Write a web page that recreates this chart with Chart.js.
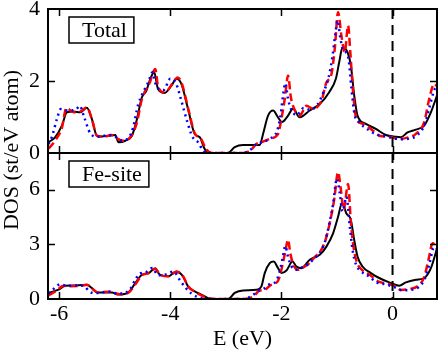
<!DOCTYPE html>
<html>
<head>
<meta charset="utf-8">
<script src="https://cdn.jsdelivr.net/npm/chart.js@4.4.1/dist/chart.umd.min.js"></script>
<style>
  html, body { margin: 0; padding: 0; background: #fff; }
  #wrap { position: relative; width: 441px; height: 352px; }
  #wrap canvas { position: absolute; left: 0; top: 0; }
</style>
</head>
<body>
<div id="wrap">
  <canvas id="topChart" width="441" height="352"></canvas>
  <canvas id="botChart" width="441" height="352"></canvas>
</div>
<script>
// ticks / axes
var energyTicks = [-6, -4, -2, 0];
var totalTicks = [0, 2, 4];
var feTicks = [0, 3, 6];
var fermiLevel = 0;

// Total DOS, black solid
var totBlackE = [-6.19,-6.07,-5.95,-5.86,-5.74,-5.62,-5.50,-5.41,-5.32,-5.23,-5.11,-4.99,-4.93,-4.81,-4.69,-4.60,-4.51,-4.43,-4.37,-4.29,-4.22,-4.10,-3.98,-3.89,-3.80,-3.68,-3.56,-3.47,-3.38,-3.29,-2.96,-2.84,-2.69,-2.39,-2.33,-2.24,-2.15,-2.06,-1.99,-1.88,-1.79,-1.67,-1.49,-1.31,-1.14,-1.02,-0.96,-0.90,-0.81,-0.75,-0.69,-0.63,-0.48,-0.30,-0.12,0.06,0.15,0.27,0.42,0.57,0.69,0.81];
var totBlackD = [0.30,0.44,0.76,1.13,1.15,1.13,1.26,0.94,0.48,0.46,0.48,0.50,0.30,0.34,0.48,0.94,1.55,1.73,2.01,2.24,1.78,1.67,1.87,2.06,1.92,1.22,0.53,0.44,0.11,0.0,0.0,0.16,0.22,0.22,0.53,1.04,1.18,0.99,0.86,1.04,1.23,0.99,1.18,1.36,1.69,2.06,2.52,2.94,2.80,2.43,1.60,1.04,0.81,0.67,0.50,0.45,0.44,0.57,0.65,0.76,1.13,1.64];

// Total DOS, red dashed
var totRedE = [-6.19,-6.07,-5.95,-5.87,-5.74,-5.62,-5.50,-5.41,-5.32,-5.20,-5.05,-4.95,-4.85,-4.69,-4.60,-4.51,-4.37,-4.27,-4.22,-4.10,-3.95,-3.87,-3.80,-3.68,-3.56,-3.45,-3.35,-3.25,-2.70,-2.55,-2.45,-2.35,-2.20,-2.06,-2.01,-1.94,-1.88,-1.83,-1.77,-1.67,-1.55,-1.43,-1.28,-1.19,-1.10,-1.04,-0.98,-0.92,-0.86,-0.80,-0.76,-0.71,-0.65,-0.53,-0.35,-0.24,-0.06,0.12,0.30,0.42,0.57,0.66,0.75,0.81];
var totRedD = [0.12,0.35,0.70,1.25,1.13,1.15,1.27,0.94,0.48,0.45,0.50,0.40,0.34,0.50,0.85,1.50,1.95,2.33,1.85,1.68,1.95,2.10,1.97,1.25,0.55,0.40,0.10,0.0,0.0,0.08,0.25,0.30,0.40,0.53,0.86,1.50,2.15,1.55,1.23,1.04,1.31,1.23,1.45,1.96,2.19,2.89,3.91,3.26,2.80,3.54,2.80,1.69,0.94,0.81,0.62,0.48,0.45,0.39,0.44,0.53,0.86,1.50,1.92,1.83];

// Total DOS, blue dotted
var totBlueE = [-6.19,-6.13,-6.04,-5.97,-5.85,-5.70,-5.63,-5.55,-5.44,-5.30,-5.10,-4.95,-4.87,-4.75,-4.67,-4.58,-4.50,-4.40,-4.32,-4.25,-4.12,-4.00,-3.90,-3.80,-3.70,-3.60,-3.50,-3.40,-3.30,-2.70,-2.55,-2.45,-2.35,-2.20,-2.08,-2.02,-1.97,-1.93,-1.88,-1.82,-1.72,-1.60,-1.48,-1.35,-1.24,-1.15,-1.08,-1.03,-0.99,-0.94,-0.89,-0.84,-0.79,-0.74,-0.68,-0.60,-0.45,-0.30,-0.15,0.0,0.15,0.30,0.45,0.58,0.67,0.75,0.81];
var totBlueD = [0.25,0.45,0.94,1.22,1.18,1.20,1.31,1.00,0.55,0.45,0.50,0.42,0.35,0.42,0.70,1.33,1.65,1.95,2.24,1.85,1.75,2.06,1.95,1.45,0.90,0.45,0.30,0.05,0.0,0.0,0.10,0.25,0.30,0.40,0.60,1.00,1.60,1.94,1.50,1.20,1.05,1.25,1.20,1.35,1.70,2.10,2.70,3.30,3.68,3.20,2.85,2.80,2.60,1.80,1.05,0.85,0.66,0.52,0.47,0.42,0.38,0.40,0.50,0.80,1.30,1.75,1.85];

// Fe-site DOS, black solid
var feBlackE = [-6.19,-6.01,-5.89,-5.77,-5.50,-5.41,-5.32,-5.05,-4.93,-4.75,-4.63,-4.51,-4.39,-4.27,-4.19,-4.04,-3.89,-3.77,-3.68,-3.56,-3.44,-3.32,-3.15,-2.96,-2.84,-2.69,-2.45,-2.36,-2.30,-2.21,-2.14,-2.06,-2.00,-1.91,-1.80,-1.73,-1.64,-1.49,-1.31,-1.19,-1.07,-0.98,-0.91,-0.83,-0.75,-0.69,-0.63,-0.54,-0.39,-0.24,-0.06,0.12,0.24,0.42,0.57,0.69,0.81];
var feBlackD = [0.33,0.51,0.72,0.74,0.78,0.60,0.36,0.36,0.24,0.36,0.87,1.33,1.42,1.69,1.33,1.24,1.51,1.24,0.69,0.42,0.24,0.05,0.0,0.0,0.33,0.47,0.51,0.69,1.42,1.96,2.05,1.69,1.42,1.56,2.05,1.78,1.69,2.15,2.42,2.87,3.60,4.51,5.24,4.69,4.33,3.24,2.33,1.78,1.42,1.15,0.91,0.73,0.91,1.05,1.15,1.69,2.87];

// Fe-site DOS, red dashed
var feRedE = [-6.19,-6.05,-5.92,-5.80,-5.60,-5.50,-5.40,-5.30,-5.10,-5.00,-4.90,-4.75,-4.63,-4.51,-4.39,-4.27,-4.19,-4.04,-3.89,-3.77,-3.68,-3.56,-3.44,-3.32,-3.20,-2.69,-2.50,-2.40,-2.30,-2.20,-2.12,-2.06,-2.00,-1.93,-1.88,-1.84,-1.78,-1.70,-1.60,-1.50,-1.40,-1.30,-1.20,-1.12,-1.05,-0.98,-0.93,-0.88,-0.80,-0.75,-0.70,-0.64,-0.55,-0.40,-0.25,-0.10,0.05,0.15,0.30,0.45,0.57,0.65,0.72,0.81];
var feRedD = [0.20,0.45,0.72,0.70,0.72,0.78,0.55,0.36,0.40,0.32,0.26,0.36,0.80,1.30,1.42,1.65,1.35,1.24,1.50,1.25,0.70,0.40,0.20,0.05,0.0,0.0,0.15,0.45,0.50,0.75,0.85,1.00,1.60,2.60,3.25,2.50,1.85,1.60,1.75,1.95,2.30,2.60,3.30,4.30,5.45,6.95,6.00,4.90,6.30,4.20,2.80,2.00,1.60,1.30,0.95,0.85,0.70,0.50,0.55,0.70,1.20,2.20,3.05,2.70];

// Fe-site DOS, blue dotted
var feBlueE = [-6.19,-6.10,-5.98,-5.85,-5.65,-5.55,-5.45,-5.35,-5.10,-4.95,-4.85,-4.72,-4.62,-4.55,-4.45,-4.32,-4.22,-4.08,-3.94,-3.82,-3.72,-3.62,-3.50,-3.40,-3.30,-2.70,-2.52,-2.42,-2.32,-2.22,-2.12,-2.05,-1.98,-1.93,-1.88,-1.82,-1.74,-1.62,-1.52,-1.42,-1.32,-1.22,-1.14,-1.07,-1.00,-0.95,-0.90,-0.83,-0.77,-0.72,-0.66,-0.58,-0.43,-0.28,-0.12,0.03,0.18,0.32,0.47,0.58,0.67,0.74,0.81];
var feBlueD = [0.30,0.55,0.80,0.72,0.74,0.70,0.40,0.32,0.40,0.30,0.30,0.55,1.10,1.40,1.45,1.70,1.30,1.35,1.50,1.00,0.60,0.30,0.10,0.02,0.0,0.0,0.20,0.45,0.55,0.80,0.90,1.30,2.20,2.90,2.30,1.80,1.60,1.75,1.90,2.20,2.50,3.10,4.10,5.20,6.60,5.80,4.80,5.60,4.00,2.70,1.90,1.55,1.25,0.90,0.80,0.65,0.48,0.50,0.65,1.10,2.00,2.80,2.60];

var serif = '"Liberation Serif", "DejaVu Serif", serif';

function pairs(e, d) {
    return e.map(function (x, i) { return { x: x, y: d[i] }; });
}

// 3 lignes: bleu en haut, noir en dessous
function makeDatasets(blackE, blackD, redE, redD, blueE, blueD) {
    return [
        { data: pairs(blueE, blueD), borderColor: '#0000ff', borderWidth: 2.5, borderDash: [2, 4] },
        { data: pairs(redE, redD), borderColor: '#ff0000', borderWidth: 2.5, borderDash: [8, 4] },
        { data: pairs(blackE, blackD), borderColor: '#000000', borderWidth: 2 }
    ];
}

// cadre, ticks vers l'interieur, ligne de Fermi, boite de legende
function panelPlugin(label, yTicks, drawYTitle) {
    return {
        id: 'panel',
        afterDatasetsDraw: function (chart) {
            var ctx = chart.ctx, a = chart.chartArea;
            var xs = chart.scales.x, ys = chart.scales.y;
            ctx.save();
            ctx.strokeStyle = '#000';

            // Fermi level
            var fx = xs.getPixelForValue(fermiLevel);
            ctx.lineWidth = 2;
            ctx.setLineDash([10, 6]);
            ctx.beginPath();
            ctx.moveTo(fx, a.top);
            ctx.lineTo(fx, a.bottom);
            ctx.stroke();
            ctx.setLineDash([]);

            // ticks
            ctx.lineWidth = 1.5;
            ctx.beginPath();
            energyTicks.forEach(function (v) {
                var px = Math.round(xs.getPixelForValue(v)) + 0.5;
                ctx.moveTo(px, a.top); ctx.lineTo(px, a.top + 7);
                ctx.moveTo(px, a.bottom); ctx.lineTo(px, a.bottom - 7);
            });
            yTicks.forEach(function (v) {
                var py = Math.round(ys.getPixelForValue(v)) + 0.5;
                if (py <= a.top + 1 || py >= a.bottom - 1) return;
                ctx.moveTo(a.left, py); ctx.lineTo(a.left + 7, py);
                ctx.moveTo(a.right, py); ctx.lineTo(a.right - 7, py);
            });
            ctx.stroke();

            // frame
            ctx.lineWidth = 2;
            ctx.strokeRect(a.left, a.top, a.right - a.left, a.bottom - a.top);

            // legend box
            ctx.font = '22px ' + serif;
            var tw = ctx.measureText(label).width;
            var bx = a.left + 21, by = a.top + 8;
            ctx.fillStyle = '#fff';
            ctx.fillRect(bx, by, tw + 20, 26);
            ctx.lineWidth = 1.5;
            ctx.strokeRect(bx, by, tw + 20, 26);
            ctx.fillStyle = '#000';
            ctx.textBaseline = 'middle';
            ctx.textAlign = 'left';
            ctx.fillText(label, bx + 13, by + 14);

            if (drawYTitle) {
                ctx.translate(12, 150);
                ctx.rotate(-Math.PI / 2);
                ctx.textAlign = 'center';
                ctx.fillText('DOS (st/eV atom)', 0, 0);
            }
            ctx.restore();
        }
    };
}

function yScale(max, ticks) {
    return {
        type: 'linear',
        min: 0,
        max: max,
        afterBuildTicks: function (s) { s.ticks = ticks.map(function (v) { return { value: v }; }); },
        afterFit: function (s) { s.width = 48; s.paddingTop = 0; s.paddingBottom = 0; },
        grid: { display: false, drawTicks: false },
        border: { display: false },
        ticks: { color: '#000', padding: 8, font: { family: serif, size: 22 } }
    };
}

function baseOptions(padding, ymax, yTicks, showX) {
    return {
        responsive: false,
        animation: false,
        layout: { padding: padding },
        elements: {
            point: { radius: 0 },
            line: { cubicInterpolationMode: 'monotone', fill: false }
        },
        plugins: { legend: { display: false }, tooltip: { enabled: false } },
        scales: {
            x: {
                type: 'linear',
                display: showX,
                min: -6.2,
                max: 0.8,
                afterBuildTicks: function (s) { s.ticks = energyTicks.map(function (v) { return { value: v }; }); },
                afterFit: function (s) {
                    s.height = showX ? 53 : 0;
                    s.paddingLeft = 0; s.paddingRight = 0;
                },
                grid: { display: false, drawTicks: false },
                border: { display: false },
                ticks: { color: '#000', padding: 2, maxRotation: 0, font: { family: serif, size: 22 } },
                title: { display: true, text: 'E (eV)', color: '#000', padding: { top: 0, bottom: 0 }, font: { family: serif, size: 22 } }
            },
            y: yScale(ymax, yTicks)
        }
    };
}

new Chart(document.getElementById('topChart'), {
    type: 'line',
    data: { datasets: makeDatasets(totBlackE, totBlackD, totRedE, totRedD, totBlueE, totBlueD) },
    options: baseOptions({ top: 9, right: 4, bottom: 199, left: 0 }, 4, totalTicks, false),
    plugins: [panelPlugin('Total', totalTicks, false)]
});

new Chart(document.getElementById('botChart'), {
    type: 'line',
    data: { datasets: makeDatasets(feBlackE, feBlackD, feRedE, feRedD, feBlueE, feBlueD) },
    options: baseOptions({ top: 153, right: 4, bottom: 0, left: 0 }, 8, feTicks, true),
    plugins: [panelPlugin('Fe-site', feTicks, true)]
});
</script>
</body>
</html>
